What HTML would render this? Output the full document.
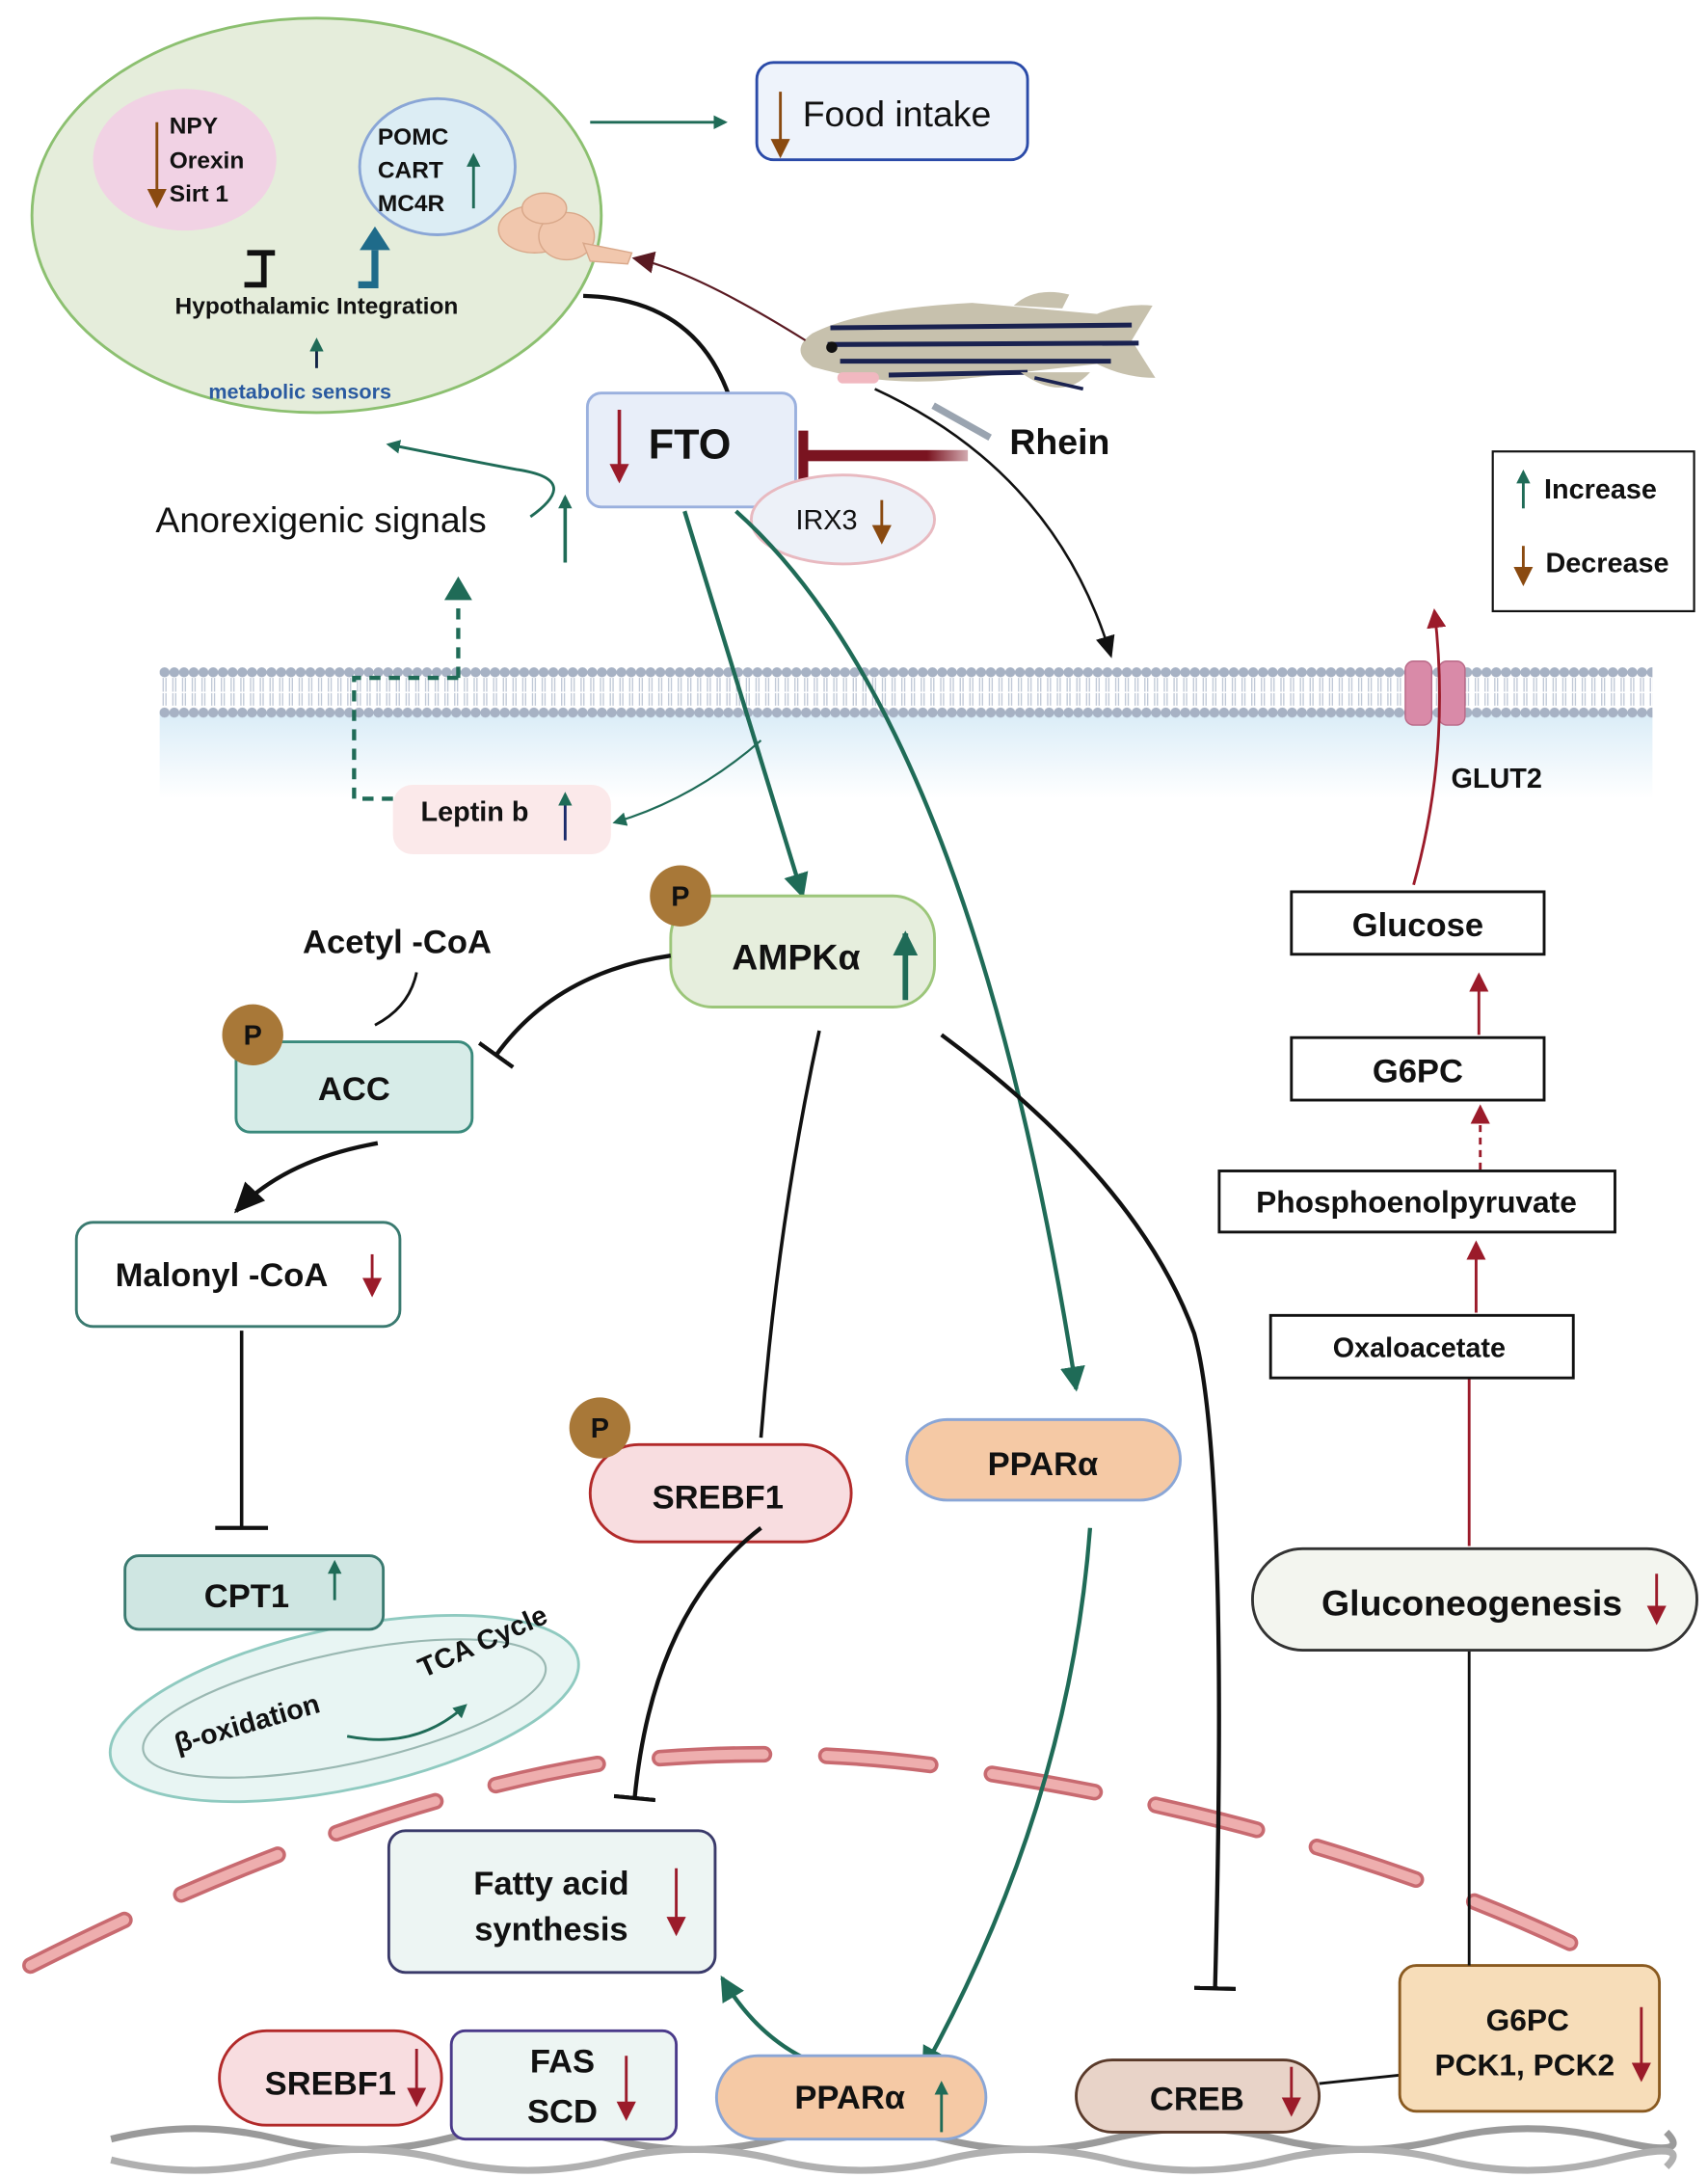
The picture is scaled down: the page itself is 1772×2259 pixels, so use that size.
<!DOCTYPE html>
<html><head><meta charset="utf-8"><style>
html,body{margin:0;padding:0;background:#fff}
svg{display:block}
text{font-family:"Liberation Sans",Arial,sans-serif;font-weight:bold;fill:#111}
</style></head><body>
<svg width="1772" height="2259" viewBox="0 0 1230 1568" xmlns="http://www.w3.org/2000/svg">
<defs>
<marker id="ag" markerWidth="10" markerHeight="10" refX="8" refY="5" orient="auto" markerUnits="userSpaceOnUse"><path d="M0,0 L10,5 L0,10z" fill="#1f6b57"/></marker>
<marker id="agB" markerWidth="20" markerHeight="20" refX="16" refY="10" orient="auto" markerUnits="userSpaceOnUse"><path d="M0,1 L18,10 L0,19z" fill="#1f6b57"/></marker>
<marker id="ar" markerWidth="14" markerHeight="14" refX="12" refY="7" orient="auto" markerUnits="userSpaceOnUse"><path d="M0,0 L14,7 L0,14z" fill="#9b1b2a"/></marker>
<marker id="ab" markerWidth="14" markerHeight="14" refX="12" refY="7" orient="auto" markerUnits="userSpaceOnUse"><path d="M0,0 L14,7 L0,14z" fill="#8a4a10"/></marker>
<marker id="ark" markerWidth="16" markerHeight="16" refX="14" refY="8" orient="auto" markerUnits="userSpaceOnUse"><path d="M0,0 L16,8 L0,16z" fill="#5a1a22"/></marker>
<marker id="ak" markerWidth="16" markerHeight="16" refX="14" refY="8" orient="auto" markerUnits="userSpaceOnUse"><path d="M0,1 L16,8 L0,15z" fill="#111"/></marker>
<marker id="akB" markerWidth="24" markerHeight="24" refX="20" refY="12" orient="auto" markerUnits="userSpaceOnUse"><path d="M0,2 L22,12 L0,22z" fill="#111"/></marker>
<marker id="tk" markerWidth="4" markerHeight="30" refX="2" refY="15" orient="auto" markerUnits="userSpaceOnUse"><rect x="0" y="0" width="3" height="30" fill="#111"/></marker>
<pattern id="lip" width="7" height="40" patternUnits="userSpaceOnUse" x="115" y="478">
<circle cx="3.5" cy="6" r="3.6" fill="#a7b2c4"/><circle cx="3.5" cy="35" r="3.6" fill="#a7b2c4"/>
<path d="M2.5,10 L2.5,20 M4.5,10 L4.5,20 M2.5,21 L2.5,30 M4.5,21 L4.5,30" stroke="#b6c0d0" stroke-width="0.8"/>
</pattern>
<linearGradient id="cyt" x1="0" y1="0" x2="0" y2="1"><stop offset="0" stop-color="#d9ecf7"/><stop offset="1" stop-color="#ffffff"/></linearGradient>
<linearGradient id="rb" x1="0" y1="0" x2="1" y2="0"><stop offset="0" stop-color="#7a1420"/><stop offset="0.75" stop-color="#7a1420"/><stop offset="1" stop-color="#d2aab0"/></linearGradient>
</defs>

<ellipse cx="228" cy="155" rx="205" ry="142" fill="#e5eddb" stroke="#8cc070" stroke-width="2"/>
<ellipse cx="133" cy="115" rx="66" ry="51" fill="#f1d2e4"/>
<text x="122" y="96" font-size="17">NPY</text>
<text x="122" y="121" font-size="17">Orexin</text>
<text x="122" y="145" font-size="17">Sirt 1</text>
<line x1="113" y1="88" x2="113" y2="148" stroke="#8a4a10" stroke-width="2" marker-end="url(#ab)"/>
<ellipse cx="315" cy="120" rx="56" ry="49" fill="#dcedf4" stroke="#8aa6d6" stroke-width="2"/>
<text x="272" y="104" font-size="17">POMC</text>
<text x="272" y="128" font-size="17">CART</text>
<text x="272" y="152" font-size="17">MC4R</text>
<line x1="341" y1="150" x2="341" y2="112" stroke="#1f6b57" stroke-width="2" marker-end="url(#ag)"/>
<path d="M190,182 L190,205 L176,205 M190,182 L178,182 M190,182 L198,182" stroke="#111" stroke-width="4" fill="none"/>
<path d="M258,205 L270,205 L270,180" stroke="#1f6b8a" stroke-width="5" fill="none"/>
<path d="M259,180 L270,163 L281,180z" fill="#1f6b8a"/>
<text x="228" y="226" font-size="17" text-anchor="middle">Hypothalamic Integration</text>
<line x1="228" y1="265" x2="228" y2="245" stroke="#112244" stroke-width="2" marker-end="url(#ag)"/>
<text x="216" y="287" font-size="15" text-anchor="middle" style="fill:#2a5aa0">metabolic sensors</text>
<g fill="#f1c7ad" stroke="#d9a88a" stroke-width="1">
<ellipse cx="385" cy="165" rx="26" ry="17"/><ellipse cx="408" cy="170" rx="20" ry="17"/><ellipse cx="392" cy="150" rx="16" ry="11"/>
<path d="M420,175 L455,182 L452,190 L425,188z"/></g>

<line x1="425" y1="88" x2="522" y2="88" stroke="#1f6b57" stroke-width="2" marker-end="url(#ag)"/>
<rect x="545" y="45" width="195" height="70" rx="12" fill="#eef3fb" stroke="#2a4aa8" stroke-width="2"/>
<text x="578" y="91" font-size="26" style="font-weight:normal">Food intake</text>
<line x1="562" y1="66" x2="562" y2="112" stroke="#8a4a10" stroke-width="2" marker-end="url(#ab)"/>

<!-- fish -->
<path d="M585,240 Q620,222 700,218 L790,226 Q810,218 830,220 L815,245 L832,272 Q810,272 790,262 L700,272 Q640,280 585,264 Q568,252 585,240z" fill="#c7c1ad"/>
<path d="M598,236 L815,234 M596,248 L820,247 M605,260 L800,260 M640,270 L740,268" stroke="#1a2250" stroke-width="3.5" fill="none"/>
<path d="M730,220 Q745,206 770,212 L765,222z" fill="#c7c1ad"/>
<path d="M735,268 Q765,290 785,268z" fill="#c7c1ad"/>
<path d="M745,272 L780,280" stroke="#1a2250" stroke-width="2.5"/>
<circle cx="599" cy="250" r="4" fill="#111"/>
<rect x="603" y="268" width="30" height="8" rx="4" fill="#f1b8c0"/>
<path d="M672,292 L713,315" stroke="#9aa4b0" stroke-width="5"/>
<path d="M580,245 Q500,195 457,186" stroke="#5a1a22" stroke-width="1.5" fill="none" marker-end="url(#ark)"/>
<text x="727" y="327" font-size="26">Rhein</text>

<path d="M525,285 Q500,215 420,213" stroke="#111" stroke-width="3" fill="none"/>
<rect x="423" y="283" width="150" height="82" rx="10" fill="#e8eef9" stroke="#9ab0de" stroke-width="2"/>
<text x="467" y="330" font-size="30">FTO</text>
<line x1="446" y1="295" x2="446" y2="346" stroke="#9b1b2a" stroke-width="2.5" marker-end="url(#ar)"/>
<rect x="580" y="324" width="117" height="8" fill="url(#rb)"/>
<rect x="575" y="310" width="7" height="36" fill="#7a1420"/>
<ellipse cx="607" cy="374" rx="66" ry="32" fill="#edf1f8" stroke="#e8b9c0" stroke-width="2"/>
<text x="573" y="381" font-size="20" style="font-weight:normal">IRX3</text>
<line x1="635" y1="360" x2="635" y2="390" stroke="#8a4a10" stroke-width="2" marker-end="url(#ab)"/>
<path d="M630,280 Q760,340 800,472" stroke="#111" stroke-width="1.8" fill="none" marker-end="url(#ak)"/>

<text x="112" y="383" font-size="26" style="font-weight:normal">Anorexigenic signals</text>
<line x1="407" y1="405" x2="407" y2="358" stroke="#1f6b57" stroke-width="2.5" marker-end="url(#ag)"/>
<path d="M382,372 Q420,345 372,338 Q330,330 280,320" stroke="#1f6b57" stroke-width="2" fill="none" marker-end="url(#ag)"/>

<rect x="115" y="512" width="1075" height="63" fill="url(#cyt)"/>
<rect x="115" y="478" width="1075" height="40" fill="url(#lip)"/>
<path d="M330,488 L330,434 M330,488 L255,488 L255,575 L285,575" stroke="#1f6b57" stroke-width="3" stroke-dasharray="8,6" fill="none"/>
<path d="M320,432 L330,415 L340,432z" fill="#1f6b57"/>

<rect x="1012" y="476" width="19" height="46" rx="6" fill="#d98aa8" stroke="#b96a88"/>
<rect x="1036" y="476" width="19" height="46" rx="6" fill="#d98aa8" stroke="#b96a88"/>
<text x="1045" y="567" font-size="20">GLUT2</text>
<path d="M1018,637 Q1045,540 1033,440" stroke="#9b1b2a" stroke-width="2" fill="none" marker-end="url(#ar)"/>

<rect x="1075" y="325" width="145" height="115" fill="#fff" stroke="#111" stroke-width="1.5"/>
<line x1="1097" y1="366" x2="1097" y2="340" stroke="#1f6b57" stroke-width="2" marker-end="url(#ag)"/>
<text x="1112" y="359" font-size="20">Increase</text>
<line x1="1097" y1="393" x2="1097" y2="420" stroke="#8a4a10" stroke-width="2" marker-end="url(#ab)"/>
<text x="1113" y="412" font-size="20">Decrease</text>

<rect x="283" y="565" width="157" height="50" rx="14" fill="#fbe9ea"/>
<text x="303" y="591" font-size="20">Leptin b</text>
<line x1="407" y1="605" x2="407" y2="572" stroke="#1a2a6a" stroke-width="2" marker-end="url(#ag)"/>
<path d="M548,533 Q500,575 443,592" stroke="#1f6b57" stroke-width="1.5" fill="none" marker-end="url(#ag)"/>

<line x1="493" y1="368" x2="578" y2="645" stroke="#1f6b57" stroke-width="3" marker-end="url(#agB)"/>
<path d="M530,368 Q700,520 775,1000" stroke="#1f6b57" stroke-width="3" fill="none" marker-end="url(#agB)"/>

<rect x="483" y="645" width="190" height="80" rx="30" fill="#e6eedd" stroke="#9cc67a" stroke-width="2"/>
<text x="527" y="698" font-size="26">AMPKα</text>
<line x1="652" y1="720" x2="652" y2="672" stroke="#1f6b57" stroke-width="4" marker-end="url(#agB)"/>
<circle cx="490" cy="645" r="22" fill="#a87838"/><text x="490" y="652" font-size="20" text-anchor="middle">P</text>

<text x="218" y="686" font-size="24">Acetyl -CoA</text>
<path d="M300,700 Q295,725 270,738" stroke="#111" stroke-width="2" fill="none"/>
<rect x="170" y="750" width="170" height="65" rx="10" fill="#d7ece8" stroke="#3a8a7c" stroke-width="2"/>
<circle cx="182" cy="745" r="22" fill="#a87838"/><text x="182" y="752" font-size="20" text-anchor="middle">P</text>
<text x="255" y="792" font-size="24" text-anchor="middle">ACC</text>
<path d="M483,688 Q400,700 357,760" stroke="#111" stroke-width="3" fill="none" marker-end="url(#tk)"/>
<path d="M272,823 Q205,835 170,872" stroke="#111" stroke-width="3" fill="none" marker-end="url(#akB)"/>

<rect x="55" y="880" width="233" height="75" rx="12" fill="#fff" stroke="#3a7a70" stroke-width="2"/>
<text x="83" y="926" font-size="24">Malonyl -CoA</text>
<line x1="268" y1="903" x2="268" y2="932" stroke="#9b1b2a" stroke-width="2" marker-end="url(#ar)"/>
<line x1="174" y1="958" x2="174" y2="1100" stroke="#111" stroke-width="2.5"/>
<line x1="155" y1="1100" x2="193" y2="1100" stroke="#111" stroke-width="3"/>

<g transform="rotate(-12 248 1230)">
<ellipse cx="248" cy="1230" rx="172" ry="58" fill="#e8f5f3" stroke="#8fcac0" stroke-width="2"/>
<ellipse cx="248" cy="1230" rx="148" ry="40" fill="none" stroke="#9ab8b2" stroke-width="1.5"/>
</g>
<rect x="90" y="1120" width="186" height="53" rx="10" fill="#cfe6e2" stroke="#3a7a70" stroke-width="2"/>
<text x="147" y="1157" font-size="24">CPT1</text>
<line x1="241" y1="1152" x2="241" y2="1125" stroke="#1f6b57" stroke-width="2" marker-end="url(#ag)"/>
<text x="0" y="0" font-size="20" transform="translate(128,1262) rotate(-16)">β-oxidation</text>
<text x="0" y="0" font-size="20" transform="translate(305,1208) rotate(-24)">TCA Cycle</text>
<path d="M250,1250 Q300,1260 335,1228" stroke="#1f6b57" stroke-width="2" fill="none" marker-end="url(#ag)"/>

<path d="M22,1415 Q250,1300 430,1270 Q560,1255 680,1272 Q950,1310 1150,1408" stroke="#c86a70" stroke-width="12" stroke-linecap="round" stroke-dasharray="75,45" fill="none"/>
<path d="M22,1415 Q250,1300 430,1270 Q560,1255 680,1272 Q950,1310 1150,1408" stroke="#eeaeae" stroke-width="7" stroke-linecap="round" stroke-dasharray="75,45" fill="none"/>

<path d="M590,742 Q560,880 548,1035" stroke="#111" stroke-width="2.5" fill="none"/>
<rect x="425" y="1040" width="188" height="70" rx="35" fill="#f8dde0" stroke="#b22a2a" stroke-width="2"/>
<circle cx="432" cy="1028" r="22" fill="#a87838"/><text x="432" y="1035" font-size="20" text-anchor="middle">P</text>
<text x="517" y="1086" font-size="24" text-anchor="middle">SREBF1</text>
<path d="M548,1100 Q470,1160 457,1295" stroke="#111" stroke-width="3" fill="none" marker-end="url(#tk)"/>

<path d="M678,745 Q820,850 860,960 Q885,1050 875,1432" stroke="#111" stroke-width="3" fill="none" marker-end="url(#tk)"/>

<rect x="653" y="1022" width="197" height="58" rx="29" fill="#f5c9a5" stroke="#8aa6d6" stroke-width="2"/>
<text x="751" y="1062" font-size="24" text-anchor="middle">PPARα</text>
<path d="M785,1100 Q770,1300 665,1490" stroke="#1f6b57" stroke-width="3" fill="none" marker-end="url(#agB)"/>

<rect x="280" y="1318" width="235" height="102" rx="12" fill="#edf5f3" stroke="#3a3a6a" stroke-width="2"/>
<text x="397" y="1364" font-size="24" text-anchor="middle">Fatty acid</text>
<text x="397" y="1397" font-size="24" text-anchor="middle">synthesis</text>
<line x1="487" y1="1345" x2="487" y2="1392" stroke="#9b1b2a" stroke-width="2" marker-end="url(#ar)"/>
<path d="M600,1490 Q550,1475 520,1424" stroke="#1f6b57" stroke-width="3" fill="none" marker-end="url(#agB)"/>

<path d="M80,1540 Q140,1525 200,1540 T320,1540 T440,1540 T560,1540 T680,1540 T800,1540 T920,1540 T1040,1540 T1160,1540 T1200,1535" stroke="#9a9a9a" stroke-width="5" fill="none"/>
<path d="M80,1555 Q140,1570 200,1555 T320,1555 T440,1555 T560,1555 T680,1555 T800,1555 T920,1555 T1040,1555 T1160,1555 T1200,1560" stroke="#b0b0b0" stroke-width="5" fill="none"/>

<rect x="158" y="1462" width="160" height="68" rx="34" fill="#f8dde0" stroke="#b22a2a" stroke-width="2"/>
<text x="238" y="1508" font-size="24" text-anchor="middle">SREBF1</text>
<line x1="300" y1="1475" x2="300" y2="1515" stroke="#9b1b2a" stroke-width="2" marker-end="url(#ar)"/>
<rect x="325" y="1462" width="162" height="78" rx="10" fill="#edf5f3" stroke="#4a3a8a" stroke-width="2"/>
<text x="405" y="1492" font-size="24" text-anchor="middle">FAS</text>
<text x="405" y="1528" font-size="24" text-anchor="middle">SCD</text>
<line x1="451" y1="1480" x2="451" y2="1525" stroke="#9b1b2a" stroke-width="2" marker-end="url(#ar)"/>
<rect x="516" y="1480" width="194" height="60" rx="30" fill="#f5c9a5" stroke="#8aa6d6" stroke-width="2"/>
<text x="612" y="1518" font-size="24" text-anchor="middle">PPARα</text>
<line x1="678" y1="1535" x2="678" y2="1500" stroke="#1f6b57" stroke-width="2" marker-end="url(#ag)"/>
<rect x="775" y="1483" width="175" height="52" rx="26" fill="#e8d3c8" stroke="#5a3a2a" stroke-width="2"/>
<text x="862" y="1519" font-size="24" text-anchor="middle">CREB</text>
<line x1="930" y1="1488" x2="930" y2="1522" stroke="#9b1b2a" stroke-width="2" marker-end="url(#ar)"/>
<line x1="950" y1="1500" x2="1008" y2="1494" stroke="#111" stroke-width="2"/>
<rect x="1008" y="1415" width="187" height="105" rx="12" fill="#f7ddb9" stroke="#8a5a20" stroke-width="2"/>
<text x="1100" y="1462" font-size="22" text-anchor="middle">G6PC</text>
<text x="1098" y="1494" font-size="22" text-anchor="middle">PCK1, PCK2</text>
<line x1="1182" y1="1445" x2="1182" y2="1497" stroke="#9b1b2a" stroke-width="2" marker-end="url(#ar)"/>
<line x1="1058" y1="1188" x2="1058" y2="1415" stroke="#111" stroke-width="2"/>

<rect x="902" y="1115" width="320" height="73" rx="36" fill="#f3f5ef" stroke="#333" stroke-width="2"/>
<text x="1060" y="1163" font-size="26" text-anchor="middle">Gluconeogenesis</text>
<line x1="1193" y1="1133" x2="1193" y2="1168" stroke="#9b1b2a" stroke-width="2" marker-end="url(#ar)"/>
<line x1="1058" y1="1113" x2="1058" y2="992" stroke="#9b1b2a" stroke-width="2"/>
<rect x="915" y="947" width="218" height="45" fill="#fff" stroke="#111" stroke-width="2"/>
<text x="1022" y="977" font-size="20" text-anchor="middle">Oxaloacetate</text>
<line x1="1063" y1="945" x2="1063" y2="895" stroke="#9b1b2a" stroke-width="2" marker-end="url(#ar)"/>
<rect x="878" y="843" width="285" height="44" fill="#fff" stroke="#111" stroke-width="2"/>
<text x="1020" y="873" font-size="22" text-anchor="middle">Phosphoenolpyruvate</text>
<line x1="1066" y1="842" x2="1066" y2="797" stroke="#9b1b2a" stroke-width="2" stroke-dasharray="5,4" marker-end="url(#ar)"/>
<rect x="930" y="747" width="182" height="45" fill="#fff" stroke="#111" stroke-width="2"/>
<text x="1021" y="779" font-size="24" text-anchor="middle">G6PC</text>
<line x1="1065" y1="745" x2="1065" y2="702" stroke="#9b1b2a" stroke-width="2" marker-end="url(#ar)"/>
<rect x="930" y="642" width="182" height="45" fill="#fff" stroke="#111" stroke-width="2"/>
<text x="1021" y="674" font-size="24" text-anchor="middle">Glucose</text>
</svg>
</body></html>
